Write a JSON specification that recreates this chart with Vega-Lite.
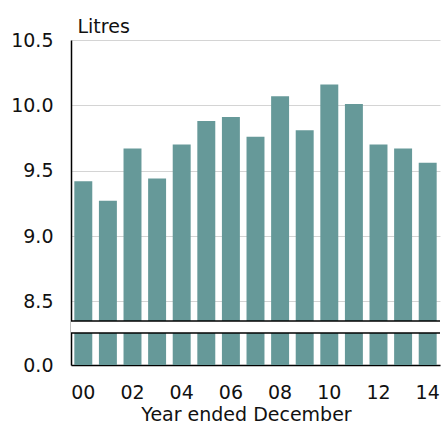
{
  "$schema": "https://vega.github.io/schema/vega-lite/v6.json",
  "width": 369,
  "height": 325,
  "autosize": "none",
  "padding": {"left": 71, "top": 40, "right": 2, "bottom": 60},
  "background": "white",
  "config": {
    "view": {"stroke": null},
    "font": "DejaVu Sans",
    "axis": {
      "labelFont": "DejaVu Sans",
      "titleFont": "DejaVu Sans",
      "labelFontSize": 19,
      "titleFontSize": 19,
      "titleFontWeight": "normal",
      "labelColor": "#111111",
      "titleColor": "#111111",
      "domainColor": "#000000",
      "domainWidth": 1.5,
      "gridColor": "#d4d4d4",
      "gridWidth": 1,
      "ticks": false,
      "tickSize": 0
    }
  },
  "layer": [
    {
      "data": {
        "values": [
          {"year": "00", "litres": 9.42},
          {"year": "01", "litres": 9.27},
          {"year": "02", "litres": 9.67},
          {"year": "03", "litres": 9.44},
          {"year": "04", "litres": 9.70},
          {"year": "05", "litres": 9.88},
          {"year": "06", "litres": 9.91},
          {"year": "07", "litres": 9.76},
          {"year": "08", "litres": 10.07},
          {"year": "09", "litres": 9.81},
          {"year": "10", "litres": 10.16},
          {"year": "11", "litres": 10.01},
          {"year": "12", "litres": 9.70},
          {"year": "13", "litres": 9.67},
          {"year": "14", "litres": 9.56}
        ]
      },
      "mark": {"type": "bar", "color": "#669999"},
      "encoding": {
        "x": {
          "field": "year",
          "type": "ordinal",
          "scale": {"paddingInner": 0.27, "paddingOuter": 0.135},
          "axis": {
            "title": "Year ended December",
            "values": ["00", "02", "04", "06", "08", "10", "12", "14"],
            "labelAngle": 0,
            "labelBaseline": "alphabetic",
            "labelPadding": 33,
            "grid": false,
            "titleX": 175,
            "titleY": 55,
            "titleBaseline": "alphabetic"
          }
        },
        "y": {
          "field": "litres",
          "type": "quantitative",
          "scale": {"domain": [0, 8.3, 8.35, 10.5], "range": [325, 293, 281, 0], "nice": false, "zero": false},
          "axis": {
            "title": "Litres",
            "values": [0, 8.5, 9, 9.5, 10, 10.5],
            "format": ".1f",
            "labelPadding": 18,
            "grid": true,
            "titleAngle": 0,
            "titleAlign": "left",
            "titleBaseline": "alphabetic",
            "titleX": 6,
            "titleY": -8
          }
        }
      }
    },
    {
      "data": {"values": [{}]},
      "mark": {"type": "rect", "color": "white"},
      "encoding": {"y": {"datum": 8.3}, "y2": {"datum": 8.35}}
    },
    {
      "data": {"values": [{}]},
      "mark": {"type": "rule", "color": "black", "strokeWidth": 1.5},
      "encoding": {"y": {"datum": 8.3}}
    },
    {
      "data": {"values": [{}]},
      "mark": {"type": "rule", "color": "black", "strokeWidth": 1.5},
      "encoding": {"y": {"datum": 8.35}}
    }
  ]
}
